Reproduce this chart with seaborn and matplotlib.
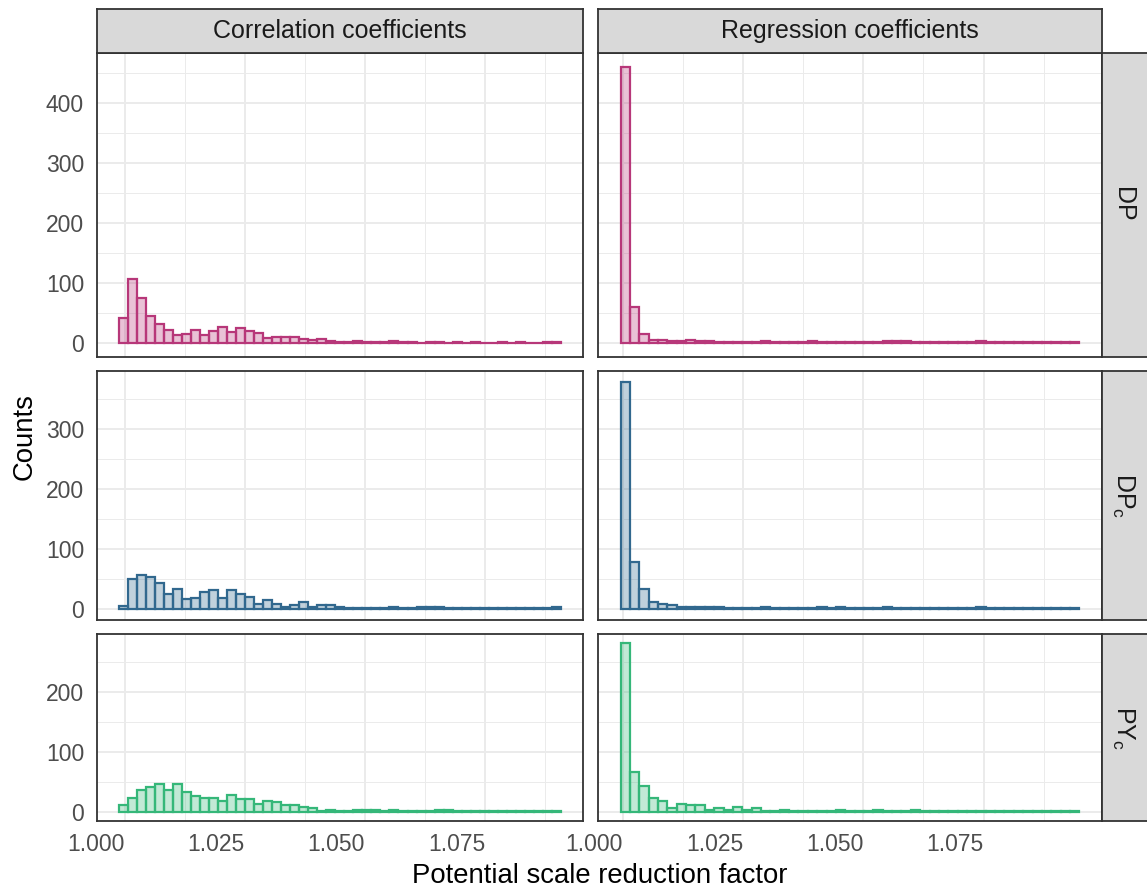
import numpy as np
import pandas as pd
import matplotlib
matplotlib.use("Agg")
import matplotlib.pyplot as plt
from matplotlib.ticker import MultipleLocator, FormatStrFormatter
import seaborn as sns

# facet labels
col_labels = ["Correlation coefficients", "Regression coefficients"]
row_labels = ["DP", "DP$_\\mathrm{c}$", "PY$_\\mathrm{c}$"]
row_colors = ["#B73779", "#31688E", "#35B779"]

# histogram bin ranges per column (49 bins each)
corr_range = (0.99876, 1.09073)
reg_range = (0.99952, 1.09490)
n_bins = 49

# counts per bin
dp_corr = [42, 106, 74, 44, 31, 21, 13, 15, 22, 13, 20, 26, 18, 24, 20, 17, 8, 9, 9, 10,
           6, 4, 7, 3, 2, 1, 3, 2, 1, 1, 3, 1, 1, 0, 1, 1, 0, 1, 0, 1,
           0, 0, 1, 0, 1, 0, 0, 1, 1]
dp_reg = [460, 59, 14, 4, 5, 3, 3, 4, 3, 3, 2, 1, 1, 2, 1, 3, 1, 1, 1, 1,
          3, 1, 1, 1, 1, 1, 1, 1, 3, 3, 3, 1, 1, 1, 1, 1, 1, 1, 3, 1,
          1, 1, 1, 1, 1, 1, 1, 1, 1]
dpc_corr = [4, 49, 56, 53, 43, 24, 32, 16, 17, 27, 31, 17, 31, 24, 20, 8, 14, 7, 2, 6,
            11, 3, 6, 6, 3, 1, 1, 1, 1, 1, 2, 1, 1, 2, 2, 2, 1, 1, 1, 1,
            1, 1, 1, 1, 1, 1, 1, 1, 3]
dpc_reg = [377, 78, 32, 11, 8, 6, 2, 3, 2, 3, 2, 1, 1, 1, 1, 3, 1, 1, 1, 1,
           1, 2, 1, 3, 1, 1, 1, 1, 2, 1, 1, 1, 1, 1, 1, 1, 1, 1, 2, 1,
           1, 1, 1, 1, 1, 1, 1, 1, 1]
pyc_corr = [12, 23, 36, 41, 47, 36, 47, 34, 27, 23, 23, 19, 29, 22, 21, 13, 19, 16, 11, 12,
            8, 7, 1, 4, 2, 2, 3, 3, 3, 1, 4, 2, 2, 2, 2, 3, 3, 1, 1, 2,
            1, 1, 2, 1, 1, 2, 1, 1, 1]
pyc_reg = [282, 66, 44, 24, 18, 6, 13, 12, 12, 4, 6, 4, 9, 4, 7, 2, 1, 4, 2, 2,
           1, 2, 2, 4, 2, 1, 1, 4, 1, 2, 1, 3, 1, 1, 2, 2, 1, 1, 2, 1,
           1, 1, 1, 2, 2, 1, 1, 1, 1]

counts = [[dp_corr, dp_reg], [dpc_corr, dpc_reg], [pyc_corr, pyc_reg]]
col_ranges = [corr_range, reg_range]

sns.set_style("white")
plt.rcParams["font.family"] = ["Liberation Sans", "DejaVu Sans"]
plt.rcParams["mathtext.fontset"] = "custom"
plt.rcParams["mathtext.rm"] = "Liberation Sans"
plt.rcParams["mathtext.it"] = "Liberation Sans:italic"

W, H = 1147, 894
fig = plt.figure(figsize=(W / 100, H / 100), dpi=100)


def px_axes(x0, y0, w, h):
    # pixel box measured from the top-left corner
    return fig.add_axes([x0 / W, 1 - (y0 + h) / H, w / W, h / H])


# limits like ggplot's default 5% expansion
xlims = []
for lo, hi in col_ranges:
    e = 0.05 * (hi - lo)
    xlims.append((lo - e, hi + e))
ylims = []
for r in range(3):
    m = max(max(counts[r][0]), max(counts[r][1]))
    ylims.append((-0.05 * m, 1.05 * m))

xscale = 4810.0   # px per x unit
yscale = 0.6      # px per count
left0, top0, gap = 96.5, 53.0, 14.5
col_w = [(b - a) * xscale for a, b in xlims]
row_h = [(b - a) * yscale for a, b in ylims]
col_x = [left0, left0 + col_w[0] + gap]
row_y = [top0, top0 + row_h[0] + gap, top0 + row_h[0] + row_h[1] + 2 * gap]

border = "#333333"
grid_c = "#EBEBEB"
tick_c = "#4D4D4D"
tick_fs = 16.5

for r in range(3):
    for c in range(2):
        ax = px_axes(col_x[c], row_y[r], col_w[c], row_h[r])
        lo, hi = col_ranges[c]
        step = (hi - lo) / n_bins
        centers = lo + step * (np.arange(n_bins) + 0.5)
        df = pd.DataFrame({"psrf": centers, "n": counts[r][c]})
        sns.histplot(data=df, x="psrf", weights="n", bins=n_bins, binrange=(lo, hi),
                     ax=ax, color=row_colors[r], alpha=0.3,
                     edgecolor=row_colors[r], linewidth=1.6)
        ax.set_xlim(xlims[c])
        ax.set_ylim(ylims[r])
        ax.set_xlabel("")
        ax.set_ylabel("")
        ax.xaxis.set_major_locator(MultipleLocator(0.025))
        ax.xaxis.set_minor_locator(MultipleLocator(0.0125))
        ax.yaxis.set_major_locator(MultipleLocator(100))
        ax.yaxis.set_minor_locator(MultipleLocator(50))
        ax.xaxis.set_major_formatter(FormatStrFormatter("%.3f"))
        ax.set_axisbelow(True)
        ax.grid(which="major", color=grid_c, linewidth=1.4)
        ax.grid(which="minor", color=grid_c, linewidth=0.7)
        for s in ax.spines.values():
            s.set_color(border)
            s.set_linewidth(1.3)
            s.set_visible(True)
        ax.tick_params(which="minor", length=0)
        ax.tick_params(which="major", length=4.5, width=1.0, color=border,
                       labelcolor=tick_c, labelsize=tick_fs, pad=4.5)
        if r < 2:
            ax.tick_params(axis="x", which="major", length=0, labelbottom=False)
        else:
            for lab in ax.get_xticklabels():
                lab.set_ha("right")
        if c == 1:
            ax.tick_params(axis="y", which="major", length=0, labelleft=False)

# column strips
for c in range(2):
    sax = px_axes(col_x[c], 9.0, col_w[c], top0 - 9.0)
    sax.set_facecolor("#D9D9D9")
    sax.set_xticks([])
    sax.set_yticks([])
    for s in sax.spines.values():
        s.set_color(border)
        s.set_linewidth(1.3)
    sax.text(0.5, 0.5, col_labels[c], ha="center", va="center",
             fontsize=18, color="#1A1A1A", transform=sax.transAxes)

# row strips
strip_x = col_x[1] + col_w[1]
for r in range(3):
    sax = px_axes(strip_x, row_y[r], 47, row_h[r])
    sax.set_facecolor("#D9D9D9")
    sax.set_xticks([])
    sax.set_yticks([])
    for s in sax.spines.values():
        s.set_color(border)
        s.set_linewidth(1.3)
    sax.text(0.45, 0.5, row_labels[r], ha="center", va="center", rotation=-90,
             fontsize=18, color="#1A1A1A", transform=sax.transAxes)

bottom = row_y[2] + row_h[2]
fig.text((left0 + strip_x) / 2 / W, 1 - 876 / H, "Potential scale reduction factor",
         ha="center", va="center", fontsize=19.8, color="black")
fig.text(25 / W, 1 - (top0 + bottom) / 2 / H, "Counts", rotation=90,
         ha="center", va="center", fontsize=19.8, color="black")

fig.savefig("out.png", dpi=100)
